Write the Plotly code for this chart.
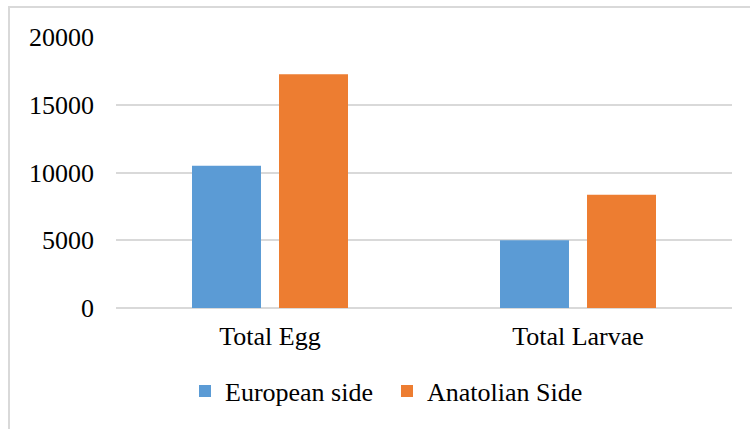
import plotly.graph_objects as go

categories = ["Total Egg", "Total Larvae"]
european_side = [10500, 5000]
anatolian_side = [17250, 8350]
y_ticks = [0, 5000, 10000, 15000, 20000]

FONT = "Liberation Serif, Times New Roman, serif"

fig = go.Figure()
fig.add_trace(go.Bar(name="European side", x=categories, y=european_side,
                     marker=dict(color="#5B9BD5", line=dict(width=0))))
fig.add_trace(go.Bar(name="Anatolian Side", x=categories, y=anatolian_side,
                     marker=dict(color="#ED7D31", line=dict(width=0))))

L, R, T, B = 116, 18, 37, 121
W, H = 750, 429
pw, ph = W - L - R, H - T - B

fig.update_layout(
    width=W, height=H,
    margin=dict(l=L, r=R, t=T, b=B),
    paper_bgcolor="white", plot_bgcolor="white",
    font=dict(family=FONT, size=26, color="black"),
    barmode="group", bargap=0.435, bargroupgap=0.207,
    showlegend=True,
    legend=dict(orientation="h", x=(185 - L) / pw, xanchor="left",
                y=(H - B - 391) / ph, yanchor="middle",
                entrywidth=157, entrywidthmode="pixels",
                font=dict(family=FONT, size=26, color="black"),
                bgcolor="rgba(0,0,0,0)"),
    xaxis=dict(showgrid=False, showline=False, ticks="", ticklabelstandoff=10,
               tickfont=dict(family=FONT, size=26, color="black")),
    yaxis=dict(range=[0, 20000], tickvals=y_ticks,
               ticktext=[str(v) for v in y_ticks],
               showgrid=True, gridcolor="#d9d9d9", gridwidth=1.5,
               zeroline=True, zerolinecolor="#d9d9d9", zerolinewidth=1.5,
               showline=False, ticks="", ticklabelstandoff=21,
               tickfont=dict(family=FONT, size=26, color="black")),
    shapes=[dict(type="rect", xref="paper", yref="paper",
                 x0=(9 - L) / pw, x1=(W + 20 - L) / pw,
                 y0=(H - B - (H + 20)) / ph, y1=(H - B - 7) / ph,
                 line=dict(color="#d9d9d9", width=2), fillcolor="rgba(0,0,0,0)",
                 layer="below")],
)

fig.write_html("out.html", config={"displayModeBar": False},
               post_script="document.body.style.margin='0';document.body.style.padding='0';")
